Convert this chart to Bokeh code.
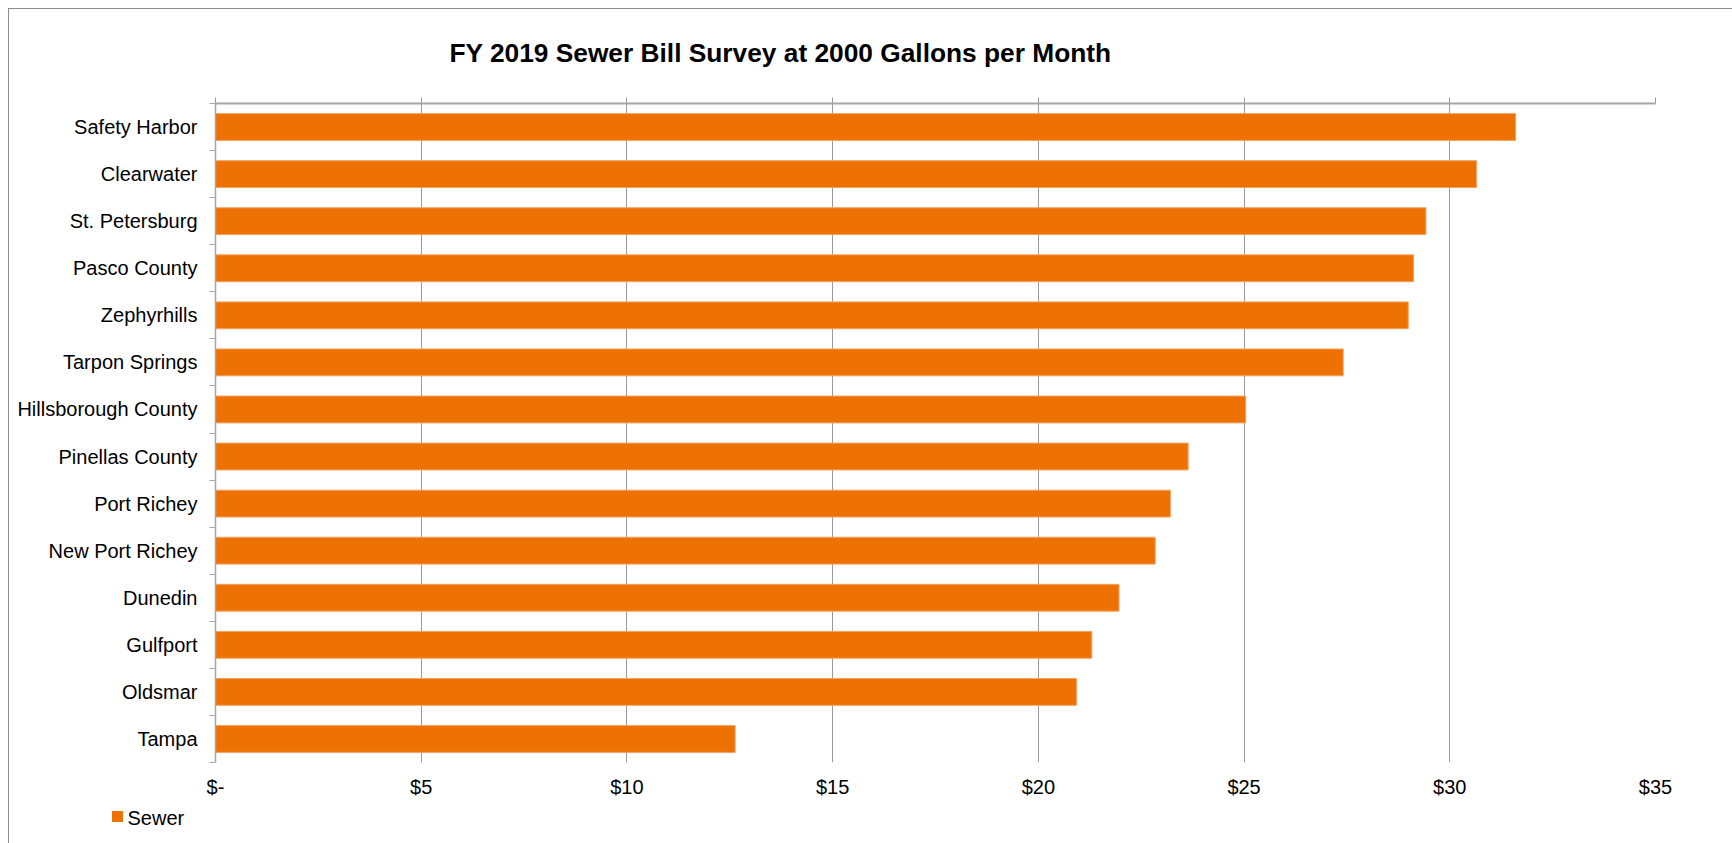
from bokeh.plotting import figure
from bokeh.models import (ColumnDataSource, Range1d, LinearAxis, Title, InlineStyleSheet,
                          FixedTicker, Grid)
from bokeh.embed import file_html
from bokeh.resources import INLINE

# ---- data (top to bottom as shown) ----
cities = ["Safety Harbor", "Clearwater", "St. Petersburg", "Pasco County", "Zephyrhills",
          "Tarpon Springs", "Hillsborough County", "Pinellas County", "Port Richey",
          "New Port Richey", "Dunedin", "Gulfport", "Oldsmar", "Tampa"]
sewer = [31.60, 30.65, 29.42, 29.12, 28.99, 27.41, 25.04, 23.64, 23.21, 22.84,
         21.96, 21.30, 20.93, 12.63]
x_ticks = [0, 5, 10, 15, 20, 25, 30, 35]
x_tick_labels = ["$-", "$5", "$10", "$15", "$20", "$25", "$30", "$35"]
series_name = "Sewer"
title_text = "FY 2019 Sewer Bill Survey at 2000 Gallons per Month"

FONT = "Liberation Sans"
ORANGE = "#EE7203"
GRID = "#9A9A9A"
AXIS = "#A6A6A6"

n = len(cities)
# category slots: first city at the top
slot = [n - 1 - i for i in range(n)]
source = ColumnDataSource(dict(city=cities, value=sewer, slot=slot))

# chart-area border (left/top) and the legend key square
page_css = InlineStyleSheet(css="""
:host::after {
  content: "";
  position: absolute;
  left: 8px; top: 8px; right: 0px; bottom: 0px;
  border-left: 1px solid #8C8C8C;
  border-top: 1px solid #8C8C8C;
  pointer-events: none;
  z-index: 100;
}
:host::before {
  content: "";
  position: absolute;
  left: 112px; top: 811px; width: 11px; height: 11px;
  background: %s;
  pointer-events: none;
  z-index: 100;
}
""" % ORANGE)

p = figure(width=1732, height=843, y_range=Range1d(-0.5, n - 0.5), x_range=Range1d(0, 35),
           x_axis_location=None, y_axis_location=None, output_backend="svg",
           toolbar_location=None, min_border_left=215, min_border_right=77,
           min_border_top=103, min_border_bottom=81, stylesheets=[page_css])
p.outline_line_color = None
p.background_fill_color = "white"
p.border_fill_color = "white"
p.xgrid.grid_line_color = None
p.ygrid.grid_line_color = None

# vertical gridlines
vgrid = Grid(dimension=0, ticker=FixedTicker(ticks=x_ticks), grid_line_color=GRID, grid_line_width=1)
p.add_layout(vgrid, "center")

r = p.hbar(y="slot", right="value", left=0, height=0.57, source=source,
           fill_color=ORANGE, line_color="#F4A261", line_width=1)

# left: category boundary ticks (closest to frame)
bounds = [k - 0.5 for k in range(n + 1)]
tick_axis = LinearAxis(ticker=FixedTicker(ticks=bounds),
                       major_label_text_font_size="0px", major_label_text_alpha=0,
                       major_label_standoff=0,
                       major_tick_out=6, major_tick_in=0, minor_tick_line_color=None,
                       major_tick_line_color=AXIS, axis_line_color=AXIS,
                       axis_line_width=1.5)
p.add_layout(tick_axis, "left")

label_axis = LinearAxis(ticker=FixedTicker(ticks=slot),
                        major_label_overrides={s: c for s, c in zip(slot, cities)},
                        axis_line_color=None, major_tick_line_color=None,
                        minor_tick_line_color=None, major_tick_out=0, major_tick_in=0,
                        major_label_standoff=12,
                        major_label_text_font=FONT, major_label_text_font_size="20px",
                        major_label_text_color="#000000")
p.add_layout(label_axis, "left")

# top line with crossing ticks
top_axis = LinearAxis(ticker=FixedTicker(ticks=x_ticks),
                      major_label_text_font_size="0px", major_label_text_alpha=0,
                      major_label_standoff=0,
                      major_tick_out=6, major_tick_in=0, minor_tick_line_color=None,
                      major_tick_line_color=GRID, axis_line_color=AXIS, axis_line_width=2)
p.add_layout(top_axis, "above")

# title (outermost in the top panel)
p.title = Title(text=title_text, align="left", offset=234, standoff=60,
                text_font=FONT, text_font_style="bold", text_font_size="26.3px",
                text_color="#000000")

# bottom value labels
bottom_axis = LinearAxis(ticker=FixedTicker(ticks=x_ticks),
                         major_label_overrides={t: l for t, l in zip(x_ticks, x_tick_labels)},
                         axis_line_color=None, major_tick_line_color=None,
                         minor_tick_line_color=None, major_tick_out=0, major_tick_in=0,
                         major_label_standoff=13, major_label_text_font=FONT,
                         major_label_text_font_size="20px", major_label_text_color="#000000")
p.add_layout(bottom_axis, "below")

# legend text, below the value labels (key square drawn by the stylesheet)
legend_text = Title(text=series_name, align="left", offset=-88, standoff=12, vertical_align="top",
                    text_font=FONT, text_font_style="normal", text_font_size="20px",
                    text_color="#000000")
p.add_layout(legend_text, "below")

open("out.html", "w").write(file_html(p, INLINE))
